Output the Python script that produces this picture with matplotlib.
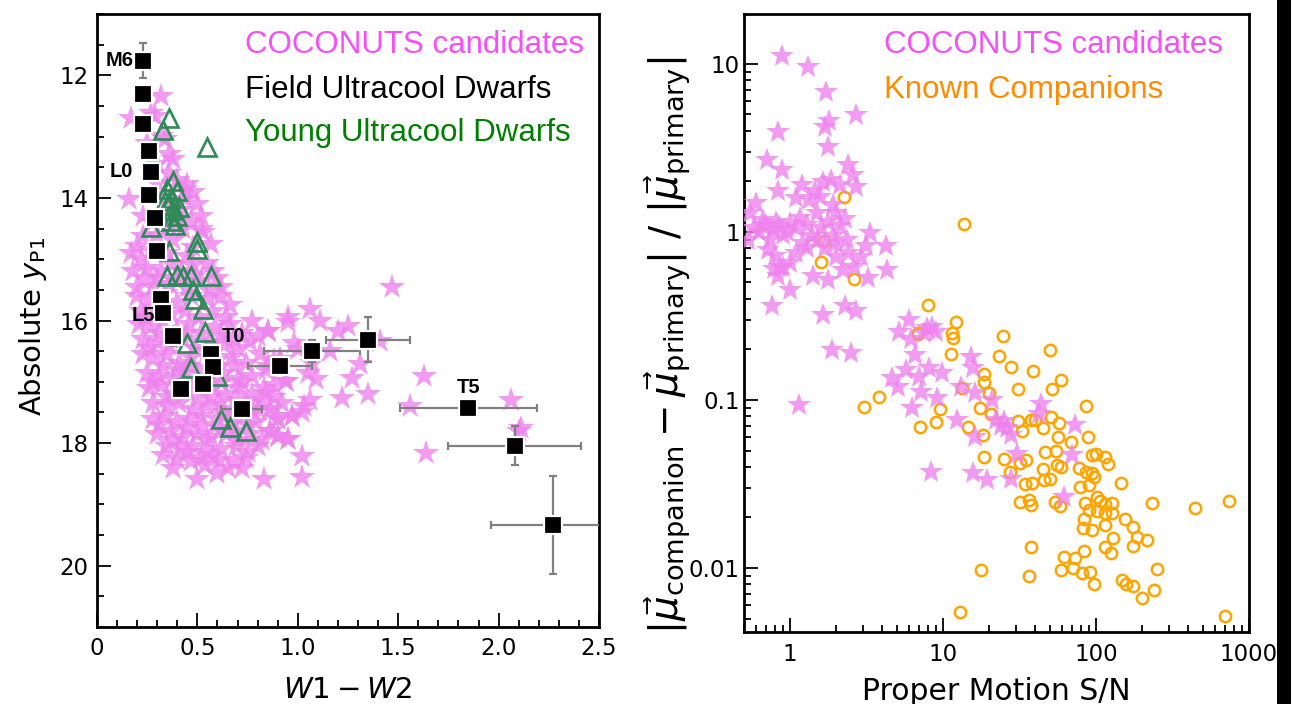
import matplotlib
matplotlib.use("Agg")
import matplotlib.pyplot as plt
from matplotlib.ticker import MultipleLocator, FuncFormatter, LogLocator, NullFormatter
from matplotlib.patches import Rectangle

# ---------------- Left panel data ----------------
# COCONUTS candidates (W1-W2, absolute y_P1)
cand_left_upper = [
    (0.32, 12.34), (0.17, 12.69), (0.27, 12.61), (0.29, 12.66), (0.32, 12.99), (0.34, 13.04),
    (0.38, 13.37), (0.36, 13.29), (0.25, 13.10), (0.30, 13.45), (0.45, 13.78), (0.44, 13.85),
    (0.40, 13.70), (0.36, 13.60), (0.30, 13.75), (0.34, 13.95), (0.48, 13.90), (0.16, 14.02),
    (0.44, 14.02), (0.50, 14.10), (0.42, 14.19), (0.47, 14.38), (0.52, 14.30), (0.38, 14.10),
    (0.33, 14.25), (0.28, 14.40), (0.36, 14.45), (0.40, 14.35), (0.23, 14.30),
    (0.52, 14.51), (0.57, 14.76), (0.23, 14.62), (0.20, 14.78), (0.38, 14.68), (0.43, 14.51),
    (0.45, 14.95), (0.30, 14.60), (0.27, 14.85), (0.35, 14.90), (0.48, 14.80), (0.53, 14.56),
    (0.17, 14.90),
]
cand_left_dense = [
    (0.55, 15.06), (0.37, 15.06), (0.22, 15.00), (0.18, 15.20), (0.25, 15.15), (0.30, 15.30),
    (0.42, 15.20), (0.48, 15.10), (0.52, 15.35), (0.60, 15.30), (0.20, 15.45), (0.28, 15.45),
    (0.36, 15.40), (0.45, 15.45), (0.56, 15.50), (0.62, 15.45),
    (0.24, 15.30), (0.32, 15.20), (0.40, 15.35), (0.49, 15.25), (0.58, 15.20),
    (0.20, 15.60), (0.26, 15.65), (0.34, 15.55), (0.40, 15.70), (0.47, 15.60), (0.55, 15.65),
    (0.62, 15.60), (0.66, 15.75), (0.22, 15.85), (0.29, 15.80), (0.37, 15.90), (0.44, 15.85),
    (0.51, 15.95), (0.58, 15.85), (0.64, 15.95), (0.24, 15.95),
    (0.21, 16.05), (0.27, 16.10), (0.33, 16.00), (0.40, 16.15), (0.46, 16.05), (0.52, 16.20),
    (0.59, 16.10), (0.66, 16.05), (0.72, 16.20), (0.23, 16.30), (0.30, 16.35), (0.36, 16.40),
    (0.43, 16.30), (0.49, 16.45), (0.56, 16.35), (0.63, 16.40), (0.70, 16.45), (0.76, 16.35),
    (0.80, 16.25), (0.85, 16.17), (0.77, 16.00), (0.95, 16.03), (0.98, 16.36),
    (0.31, 16.20), (0.38, 16.25), (0.45, 16.20), (0.62, 16.25), (0.68, 16.30), (0.26, 16.45),
    (0.23, 16.55), (0.29, 16.60), (0.35, 16.55), (0.41, 16.70), (0.47, 16.60), (0.53, 16.75),
    (0.60, 16.65), (0.67, 16.60), (0.74, 16.70), (0.81, 16.55), (0.88, 16.65), (0.25, 16.85),
    (0.31, 16.90), (0.38, 16.95), (0.44, 16.85), (0.50, 16.95), (0.57, 16.90), (0.63, 16.85),
    (0.70, 16.95), (0.77, 16.90), (0.84, 16.80), (0.91, 16.63), (0.85, 16.74), (0.94, 16.99),
    (0.55, 16.50), (0.33, 16.75), (0.40, 16.80), (0.46, 16.75), (0.68, 16.75), (0.72, 17.00),
    (0.26, 17.10), (0.32, 17.05), (0.38, 17.20), (0.45, 17.15), (0.51, 17.25), (0.58, 17.10),
    (0.64, 17.20), (0.70, 17.10), (0.77, 17.20), (0.83, 17.10), (0.88, 17.25), (0.28, 17.35),
    (0.35, 17.40), (0.41, 17.35), (0.48, 17.45), (0.55, 17.40), (0.61, 17.35), (0.67, 17.45),
    (0.74, 17.35), (0.80, 17.45), (0.86, 17.45), (0.92, 17.35),
    (0.28, 17.00), (0.35, 17.25), (0.43, 17.00), (0.57, 17.25), (0.62, 17.00), (0.70, 17.30),
    (0.82, 17.30), (0.88, 17.05),
    (0.28, 17.60), (0.34, 17.55), (0.40, 17.65), (0.46, 17.60), (0.53, 17.70), (0.60, 17.60),
    (0.67, 17.65), (0.73, 17.55), (0.79, 17.65), (0.90, 17.61), (0.97, 17.56), (0.30, 17.85),
    (0.37, 17.80), (0.43, 17.90), (0.50, 17.85), (0.57, 17.90), (0.64, 17.85), (0.70, 17.95),
    (0.76, 17.85), (0.86, 17.80), (0.90, 17.88), (0.95, 17.94),
    (0.52, 17.55), (0.63, 17.50), (0.78, 17.50), (0.31, 17.70), (0.38, 17.95), (0.45, 17.75),
    (0.55, 17.95), (0.62, 17.75), (0.69, 17.80), (0.75, 17.70), (0.82, 17.95),
    (0.35, 18.05), (0.42, 18.10), (0.48, 18.05), (0.55, 18.15), (0.62, 18.10), (0.69, 18.05),
    (0.75, 18.15), (0.40, 18.26), (0.47, 18.30), (0.54, 18.35), (0.61, 18.28), (0.68, 18.30),
    (0.74, 18.25), (1.02, 18.21), (0.50, 18.59), (0.60, 18.48), (0.83, 18.59), (1.02, 18.56),
    (0.38, 18.40), (0.45, 18.15), (0.52, 18.25), (0.58, 18.20), (0.65, 18.40), (0.72, 18.40),
    (0.80, 18.05), (0.33, 18.20),
]
cand_left_outer = [
    (1.47, 15.46), (0.95, 15.95), (1.06, 15.82), (1.11, 16.01), (1.20, 16.17), (1.25, 16.09),
    (1.16, 16.50), (1.00, 16.47), (1.31, 16.71), (1.41, 16.33), (1.27, 16.93), (1.22, 17.26),
    (1.35, 17.20), (1.63, 16.90), (1.09, 16.96), (1.05, 16.85), (0.94, 16.99), (0.84, 17.18),
    (1.06, 17.29), (1.03, 17.39), (0.97, 17.56), (0.86, 17.45), (0.90, 17.61), (0.86, 17.80),
    (0.95, 17.94), (0.90, 17.88), (1.02, 17.50), (1.56, 17.39), (1.64, 18.16), (2.06, 17.29),
    (2.10, 17.80), (2.11, 17.76), (0.85, 16.17), (0.91, 16.63), (1.07, 16.69),
]
cand_left = cand_left_upper + cand_left_dense + cand_left_outer
cand_w1w2 = [p[0] for p in cand_left]
cand_absy = [p[1] for p in cand_left]

# Young ultracool dwarfs
young_w1w2 = [0.36, 0.33, 0.55, 0.38, 0.40, 0.35, 0.37, 0.36, 0.38, 0.40, 0.37, 0.39, 0.34, 0.41,
              0.27, 0.50, 0.36, 0.50, 0.35, 0.40, 0.43, 0.47, 0.57, 0.48, 0.49, 0.53, 0.54, 0.45,
              0.47, 0.60, 0.62, 0.66, 0.74]
young_absy = [12.69, 12.90, 13.17, 13.73, 13.89, 13.85, 14.00, 14.12, 14.20, 14.30, 14.38, 14.45,
              14.05, 14.15, 14.48, 14.72, 14.87, 14.84, 15.28, 15.25, 15.28, 15.28, 15.28, 15.51,
              15.65, 15.82, 16.19, 16.37, 16.78, 16.91, 17.61, 17.74, 17.81]

# Field ultracool dwarfs (spectral-type averages) with uncertainties
field_w1w2 = [0.23, 0.23, 0.23, 0.26, 0.27, 0.26, 0.29, 0.30, 0.32, 0.33, 0.38, 0.57, 0.58, 0.42,
              0.53, 0.72, 0.91, 1.07, 1.35, 1.85, 2.08, 2.27]
field_absy = [11.76, 12.31, 12.80, 13.24, 13.57, 13.96, 14.32, 14.87, 15.65, 15.87, 16.26, 16.55,
              16.76, 17.11, 17.04, 17.45, 16.75, 16.50, 16.31, 17.42, 18.04, 19.34]
field_xerr = [0.02, 0.02, 0.02, 0.02, 0.02, 0.02, 0.02, 0.02, 0.02, 0.02, 0.03, 0.04, 0.04, 0.03,
              0.03, 0.10, 0.16, 0.24, 0.21, 0.34, 0.33, 0.31]
field_yerr = [0.28, 0.12, 0.12, 0.10, 0.10, 0.10, 0.10, 0.10, 0.10, 0.10, 0.15, 0.15, 0.15, 0.15,
              0.15, 0.12, 0.10, 0.18, 0.37, 0.12, 0.32, 0.80]

spt_labels = ["M6", "L0", "L5", "T0", "T5"]
spt_x = [0.18, 0.18, 0.29, 0.62, 1.85]
spt_y = [11.76, 13.57, 15.92, 16.26, 17.09]
spt_ha = ["right", "right", "right", "left", "center"]

# ---------------- Right panel data ----------------
cand_right = [
    (0.89, 11.2), (1.31, 9.6), (1.73, 6.8), (2.71, 4.97), (1.80, 4.54), (1.69, 4.2), (0.84, 3.95),
    (1.77, 3.22), (0.71, 2.66), (0.89, 2.34), (2.39, 2.5), (2.58, 2.18), (0.83, 1.74), (1.20, 1.89),
    (1.64, 1.97), (2.11, 1.90), (2.71, 1.86), (1.85, 2.04), (1.34, 1.55), (1.91, 1.45), (0.60, 1.48),
    (0.55, 1.29), (0.67, 1.18), (0.81, 1.15), (1.0, 1.13), (1.16, 1.21), (1.49, 1.29), (1.77, 1.15),
    (2.11, 1.08), (0.53, 0.90), (0.74, 0.90), (0.90, 0.96), (1.22, 0.86), (1.52, 0.90), (2.0, 0.86),
    (2.34, 0.90), (3.32, 0.98), (3.15, 0.82), (4.22, 0.82), (2.93, 0.71), (2.0, 0.71), (0.90, 0.62),
    (1.0, 0.65), (1.41, 0.55), (1.77, 0.52), (2.22, 0.59), (3.23, 0.53), (4.3, 0.59), (1.0, 0.45),
    (0.76, 0.36), (1.64, 0.32), (2.28, 0.36), (2.71, 0.34), (1.89, 0.198), (2.52, 0.19),
    (0.67, 1.08), (0.86, 0.62), (1.57, 1.62), (1.15, 0.093),
    (0.58, 1.05), (0.63, 1.0), (0.70, 1.1), (0.77, 1.02), (0.85, 1.08), (0.95, 1.0), (1.1, 1.05),
    (1.3, 1.1), (1.4, 0.95), (1.6, 1.05), (1.9, 0.95), (0.72, 0.78), (0.8, 0.72), (1.1, 0.75),
    (1.3, 0.8), (1.7, 0.8), (2.4, 0.75), (2.6, 0.62), (0.78, 0.6), (0.84, 0.55), (2.0, 1.3),
    (2.3, 1.2), (1.45, 1.75), (1.1, 1.6),
    (6.0, 0.30), (5.16, 0.255), (7.9, 0.267), (8.95, 0.255), (6.16, 0.23), (6.6, 0.185),
    (15.2, 0.181), (15.6, 0.155), (5.7, 0.15), (8.1, 0.155), (9.9, 0.144), (4.66, 0.135),
    (5.04, 0.12), (7.0, 0.137), (7.15, 0.112), (9.2, 0.103), (13.1, 0.12), (16.3, 0.11),
    (21.0, 0.1), (6.3, 0.089), (12.4, 0.076), (22.2, 0.076), (26.3, 0.068), (27.7, 0.062),
    (16.3, 0.06), (43.5, 0.095), (42.5, 0.083), (73, 0.071), (30.6, 0.048), (70, 0.047),
    (8.3, 0.0375), (15.6, 0.0366), (19.5, 0.0335), (27.7, 0.034), (61.7, 0.0266),
    (8.5, 0.27), (7.5, 0.25), (24, 0.07), (25, 0.075),
]
cand_pm_snr = [p[0] for p in cand_right]
cand_dmu = [p[1] for p in cand_right]

known = [
    (8.0, 0.368), (12.1, 0.292), (6.9, 0.249), (11.4, 0.249), (11.6, 0.233), (24.5, 0.24),
    (49.7, 0.198), (11.2, 0.188), (23.1, 0.183), (27.7, 0.158), (38.9, 0.148), (18.6, 0.143),
    (18.6, 0.128), (58.6, 0.132), (51.3, 0.116), (31, 0.116), (13.4, 0.117), (20, 0.11),
    (3.8, 0.104), (86, 0.092), (9.6, 0.088), (17.4, 0.09), (20.7, 0.083), (9.0, 0.074),
    (7.1, 0.069), (14.6, 0.069), (31, 0.075), (37.4, 0.076), (40, 0.076), (45, 0.068),
    (50.5, 0.079), (57, 0.0726), (33, 0.065), (18.3, 0.062), (56.5, 0.06), (89, 0.06),
    (69, 0.056), (18.5, 0.0455), (25, 0.0443), (32, 0.042), (34.6, 0.044), (46.4, 0.049),
    (54.5, 0.05), (93.7, 0.047), (100, 0.048), (115, 0.0455), (120, 0.0418), (27.3, 0.0375),
    (45, 0.0386), (55.5, 0.0409), (59.3, 0.0397), (77.6, 0.0392), (86, 0.0375), (94.5, 0.0366),
    (97, 0.035), (45.6, 0.0335), (49.7, 0.0338), (34.3, 0.0317), (38.2, 0.032), (78.5, 0.0305),
    (90, 0.031), (146, 0.0322), (32, 0.0248), (36.6, 0.0254), (37.4, 0.0237), (54, 0.0248),
    (58, 0.0233), (85, 0.0245), (101, 0.0264), (106, 0.0252), (115, 0.0241), (128, 0.0244),
    (90, 0.0222), (101, 0.0217), (114, 0.0212), (128, 0.0212), (233, 0.0245), (445, 0.0228),
    (743, 0.0249), (83, 0.0197), (154, 0.0197), (82, 0.0173), (93.5, 0.0168), (114, 0.018),
    (175, 0.0175), (129, 0.0151), (186, 0.0152), (215, 0.0146), (175, 0.0135), (114, 0.0133),
    (126, 0.0123), (37.4, 0.0133), (83, 0.0126), (61.7, 0.0117), (73, 0.0115), (59.3, 0.0097),
    (71, 0.0100), (81, 0.0094), (91, 0.0095), (97, 0.0080), (147, 0.0085), (156, 0.0080),
    (175, 0.0078), (239, 0.0074), (200, 0.0066), (252, 0.0098), (17.8, 0.0097), (36.7, 0.0089),
    (12.9, 0.0055), (700, 0.0052), (2.25, 1.62), (1.67, 0.88), (1.6, 0.66), (2.62, 0.525),
    (6.85, 0.247), (3.05, 0.0906), (13.7, 1.12),
]
known_pm_snr = [p[0] for p in known]
known_dmu = [p[1] for p in known]

# ---------------- Styling ----------------
STAR_C = "violet"
TXT_MAG = "#f64ff6"
W, H = 1293, 704
fig = plt.figure(figsize=(W / 100, H / 100), dpi=100)

def frac(l, t, r, b):
    return [l / W, 1 - b / H, (r - l) / W, (b - t) / H]

ax1 = fig.add_axes(frac(97, 14, 599, 627))
ax2 = fig.add_axes(frac(744, 14, 1249, 632))

for ax in (ax1, ax2):
    for s in ax.spines.values():
        s.set_linewidth(2)
    ax.tick_params(which="both", direction="in", top=False, right=False, width=1.3,
                   labelsize=16.5)
    ax.tick_params(which="major", length=10)
    ax.tick_params(which="minor", length=5)

# Left panel
ax1.plot(cand_w1w2, cand_absy, "*", ms=19, color=STAR_C, alpha=0.8, mew=0, ls="none", zorder=2)
ax1.plot(young_w1w2, young_absy, "^", ms=12.5, mfc="none", mec="#2e8b57", mew=1.9, ls="none",
         zorder=3)
ax1.errorbar(field_w1w2, field_absy, xerr=field_xerr, yerr=field_yerr, fmt="s", ms=13,
             mfc="black", mec="white", mew=1.6, ecolor="#808080", elinewidth=1.6, capsize=3,
             capthick=1.3, zorder=4)
for lab, x, y, ha in zip(spt_labels, spt_x, spt_y, spt_ha):
    ax1.text(x, y, lab, ha=ha, va="center", fontsize=14.5, fontweight="bold",
             family="Liberation Sans", zorder=5)

ax1.set_xlim(0, 2.5)
ax1.set_ylim(21, 11)
ax1.xaxis.set_major_locator(MultipleLocator(0.5))
ax1.xaxis.set_minor_locator(MultipleLocator(0.1))
ax1.yaxis.set_major_locator(MultipleLocator(2))
ax1.yaxis.set_minor_locator(MultipleLocator(0.5))
ax1.xaxis.set_major_formatter(FuncFormatter(lambda v, p: "0" if abs(v) < 1e-9 else f"{v:.1f}"))
ax1.yaxis.set_major_formatter(FuncFormatter(lambda v, p: f"{v:.0f}"))
ax1.tick_params(axis="x", pad=7)
ax1.tick_params(axis="y", pad=6)
ax1.set_xlabel(r"$W1-W2$", fontsize=21)
ax1.set_ylabel(r"Absolute $y_{\rm P1}$", fontsize=21)
ax1.xaxis.set_label_coords(0.5, -0.08)
ax1.yaxis.set_label_coords(-0.095, 0.49)

ax1.text(0.295, 0.949, "COCONUTS candidates", transform=ax1.transAxes, color=TXT_MAG,
         fontsize=22.5, family="Liberation Sans", va="center")
ax1.text(0.295, 0.876, "Field Ultracool Dwarfs", transform=ax1.transAxes, color="black",
         fontsize=22.5, family="Liberation Sans", va="center")
ax1.text(0.295, 0.806, "Young Ultracool Dwarfs", transform=ax1.transAxes, color="green",
         fontsize=22.5, family="Liberation Sans", va="center")

# Right panel
ax2.set_xscale("log")
ax2.set_yscale("log")
ax2.plot(known_pm_snr, known_dmu, "o", ms=8.2, mfc="none", mec="orange", mew=1.8, ls="none",
         zorder=2)
ax2.plot(cand_pm_snr, cand_dmu, "*", ms=18, color=STAR_C, alpha=0.8, mew=0, ls="none", zorder=3)
ax2.set_xlim(0.5, 1000)
ax2.set_ylim(0.00416, 19.8)
ax2.xaxis.set_major_locator(LogLocator(base=10, numticks=10))
ax2.yaxis.set_major_locator(LogLocator(base=10, numticks=10))
ax2.xaxis.set_minor_locator(LogLocator(base=10, subs=range(2, 10), numticks=20))
ax2.yaxis.set_minor_locator(LogLocator(base=10, subs=range(2, 10), numticks=20))
ax2.xaxis.set_minor_formatter(NullFormatter())
ax2.yaxis.set_minor_formatter(NullFormatter())
ax2.xaxis.set_major_formatter(FuncFormatter(lambda v, p: f"{v:g}"))
ax2.yaxis.set_major_formatter(FuncFormatter(lambda v, p: f"{v:g}"))
ax2.tick_params(axis="x", pad=8)
ax2.tick_params(axis="y", pad=3)
ax2.set_xlabel("Proper Motion S/N", fontsize=21.5)
ax2.set_ylabel(r"$|\vec{\mu}_{\rm companion}-\vec{\mu}_{\rm primary}|$ / $|\vec{\mu}_{\rm primary}|$",
               fontsize=28)
ax2.xaxis.set_label_coords(0.5, -0.073)
ax2.yaxis.set_label_coords(-0.1, 0.464)

ax2.text(0.277, 0.95, "COCONUTS candidates", transform=ax2.transAxes, color=TXT_MAG,
         fontsize=22.5, family="Liberation Sans", va="center")
ax2.text(0.277, 0.877, "Known Companions", transform=ax2.transAxes, color="darkorange",
         fontsize=22.5, family="Liberation Sans", va="center")

# torn-edge black band at the right of the picture
fig.add_artist(Rectangle((1277 / W, 0), 14 / W, 1, transform=fig.transFigure,
                         facecolor="black", edgecolor="none"))

fig.savefig("out.png", dpi=100)
